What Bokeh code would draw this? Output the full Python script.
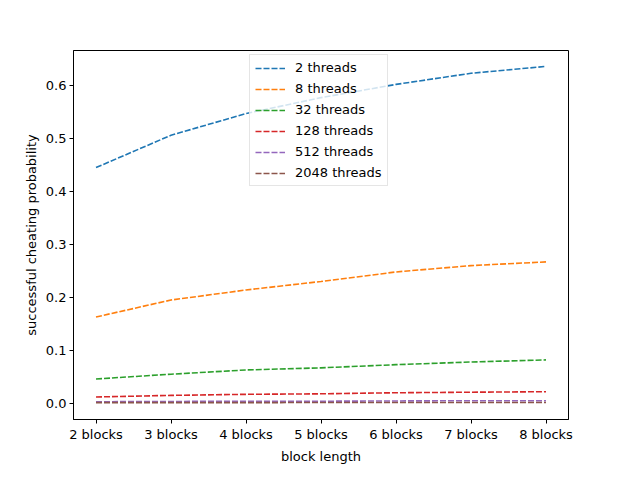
from bokeh.plotting import figure
from bokeh.models import Range1d, FixedTicker, Legend, LegendItem, PrintfTickFormatter
from bokeh.embed import file_html
from bokeh.resources import INLINE

block_lengths = [2, 3, 4, 5, 6, 7, 8]
tick_labels = ["2 blocks", "3 blocks", "4 blocks", "5 blocks", "6 blocks", "7 blocks", "8 blocks"]

threads_2 = [0.445, 0.506, 0.547, 0.577, 0.602, 0.623, 0.636]
threads_8 = [0.163, 0.195, 0.214, 0.230, 0.248, 0.260, 0.267]
threads_32 = [0.046, 0.055, 0.063, 0.067, 0.073, 0.078, 0.082]
threads_128 = [0.012, 0.015, 0.017, 0.018, 0.020, 0.021, 0.022]
threads_512 = [0.003, 0.0035, 0.004, 0.004, 0.0045, 0.005, 0.005]
threads_2048 = [0.0013, 0.0013, 0.0014, 0.0015, 0.0015, 0.0016, 0.0017]

series_names = ["2 threads", "8 threads", "32 threads", "128 threads", "512 threads", "2048 threads"]
series = [threads_2, threads_8, threads_32, threads_128, threads_512, threads_2048]
colors = ["#1f77b4", "#ff7f0e", "#2ca02c", "#d62728", "#9467bd", "#8c564b"]

FONT = "DejaVu Sans"

p = figure(output_backend="svg", toolbar_location=None,
           width=624, height=464,
           frame_width=495, frame_height=369,
           min_border_left=73, min_border_right=56,
           min_border_top=50, min_border_bottom=45,
           x_range=Range1d(1.7, 8.3), y_range=Range1d(-0.0305, 0.666))

p.background_fill_color = "white"
p.border_fill_color = "white"
p.outline_line_color = "black"
p.outline_line_width = 1
p.xgrid.visible = False
p.ygrid.visible = False

items = []
for name, vals, c in zip(series_names, series, colors):
    r = p.line(block_lengths, vals, line_color=c, line_width=1.6, line_dash="6 2")
    items.append(LegendItem(label=name, renderers=[r]))

legend = Legend(items=items, location=(176, 233))
legend.label_text_font = FONT
legend.label_text_font_size = "13px"
legend.label_text_color = "black"
legend.label_height = 14
legend.glyph_height = 14
legend.glyph_width = 30
legend.spacing = 6
legend.padding = 5
legend.margin = 0
legend.label_standoff = 10
legend.border_line_color = "#cccccc"
legend.border_line_width = 1
legend.background_fill_alpha = 0.8
p.add_layout(legend, "center")

p.xaxis.ticker = FixedTicker(ticks=block_lengths)
p.xaxis.major_label_overrides = {b: lab for b, lab in zip(block_lengths, tick_labels)}
p.yaxis.ticker = FixedTicker(ticks=[0.0, 0.1, 0.2, 0.3, 0.4, 0.5, 0.6])
p.yaxis.formatter = PrintfTickFormatter(format="%.1f")

p.xaxis.axis_label = "block length"
p.yaxis.axis_label = "successful cheating probability"

for ax in (p.xaxis, p.yaxis):
    ax.axis_label_text_font = FONT
    ax.axis_label_text_font_size = "13px"
    ax.axis_label_text_font_style = "normal"
    ax.axis_label_text_color = "black"
    ax.major_label_text_font = FONT
    ax.major_label_text_font_size = "13px"
    ax.major_label_text_color = "black"
    ax.major_tick_out = 4
    ax.major_tick_in = 0
    ax.minor_tick_out = 0
    ax.minor_tick_in = 0
    ax.axis_line_color = "black"
    ax.major_tick_line_color = "black"
    ax.major_label_standoff = 3
    ax.axis_label_standoff = 4

open("out.html", "w").write(file_html(p, INLINE))
